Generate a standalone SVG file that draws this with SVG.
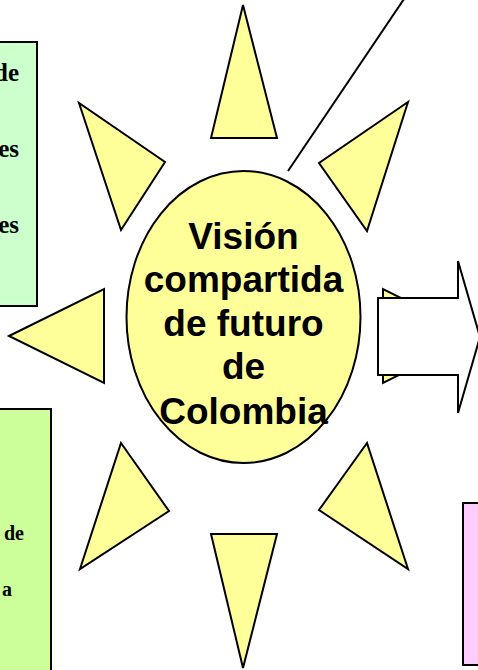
<svg xmlns="http://www.w3.org/2000/svg" width="478" height="670" viewBox="0 0 478 670">
<style>
.ray{fill:#ffff99;stroke:#000;stroke-width:2;stroke-linejoin:miter}
.box{stroke:#000;stroke-width:2}
.side{font-family:"Liberation Serif",serif;font-weight:bold;fill:#000}
.main{font-family:"Liberation Sans",Arial,sans-serif;font-weight:bold;font-size:37px;fill:#000;text-anchor:middle}
</style>
<rect width="478" height="670" fill="#fff"/>
<g id="box-top-left">
<rect class="box" x="-10" y="42" width="47" height="264" fill="#ccffcc"/>
<text class="side" font-size="25" text-anchor="end" x="19" y="81">de</text>
<text class="side" font-size="25" text-anchor="end" x="19" y="157">es</text>
<text class="side" font-size="25" text-anchor="end" x="19" y="233">es</text>
</g>
<g id="box-bottom-left">
<rect class="box" x="-10" y="409" width="61" height="270" fill="#ccff99"/>
<text class="side" font-size="20" text-anchor="end" x="24" y="540">de</text>
<text class="side" font-size="20" text-anchor="end" x="12" y="596">a</text>
</g>
<g id="box-bottom-right">
<rect class="box" x="463" y="503" width="30" height="162" fill="#ffccff"/>
</g>
<g id="connectors">
<line x1="288" y1="171" x2="404" y2="-1" stroke="#000" stroke-width="2"/>
</g>
<g id="sun">
<polygon class="ray" points="243,5 211,138 277,138"/>
<polygon class="ray" points="79,103 121,230 165,162"/>
<polygon class="ray" points="408,102 319,163 367,231"/>
<polygon class="ray" points="9,336 104,289 104,383"/>
<polygon class="ray" points="383,289 383,383 478,336"/>
<polygon class="ray" points="121,443 169,511 80,569"/>
<polygon class="ray" points="367,443 319,510 408,569"/>
<polygon class="ray" points="211,534 277,534 243,668"/>
</g>
<g id="center">
<ellipse cx="243.5" cy="317" rx="117" ry="146" fill="#ffff99" stroke="#000" stroke-width="2"/>
<text class="main" x="243.5" y="249">Visión</text>
<text class="main" x="243.5" y="292">compartida</text>
<text class="main" x="243.5" y="336">de futuro</text>
<text class="main" x="243.5" y="379">de</text>
<text class="main" x="243.5" y="424">Colombia</text>
</g>
<g id="arrow">
<polygon points="378,298 458,298 458,261 480,337 458,413 458,375 378,375" fill="#fff" stroke="#000" stroke-width="2"/>
</g>
</svg>
